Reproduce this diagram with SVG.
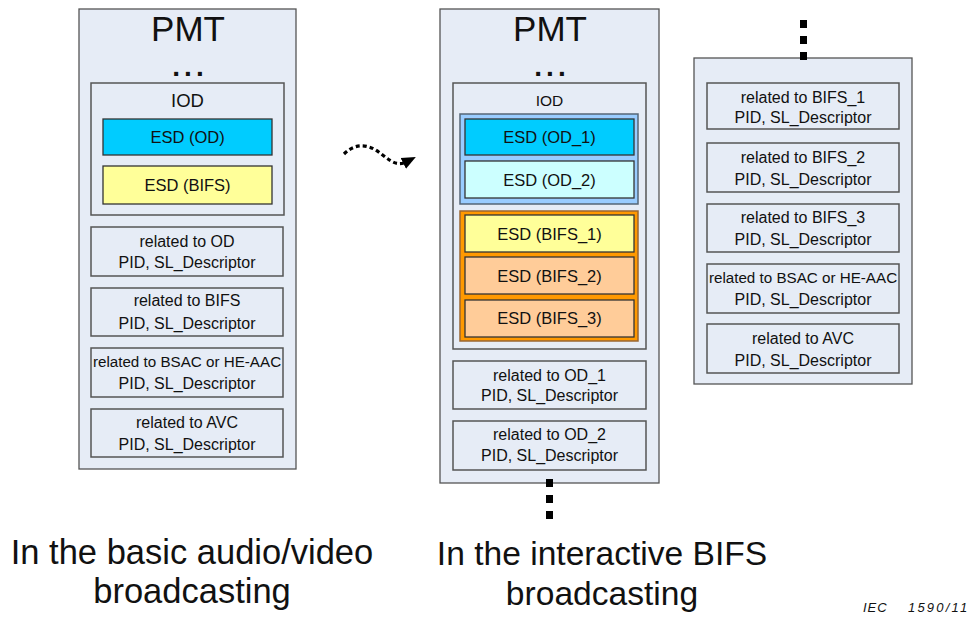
<svg xmlns="http://www.w3.org/2000/svg" width="974" height="619" viewBox="0 0 974 619">
<defs>
<style>
text{font-family:"Liberation Sans",Arial,sans-serif;fill:#111;text-anchor:middle}
.pmt{fill:#E6ECF6;stroke:#555;stroke-width:1.3}
.box{fill:#E6ECF6;stroke:#555;stroke-width:1.5}
.esd{stroke:#333;stroke-width:1.3}
.t16{font-size:16px}
.e16{font-size:16.5px}
.big{font-size:35px}
.ell{font-size:28px;font-weight:bold;letter-spacing:4px}
.dots{stroke:#000;stroke-width:7;stroke-dasharray:8 8;fill:none}
</style>
<marker id="ah" markerWidth="14" markerHeight="14" refX="3" refY="6" orient="auto" markerUnits="userSpaceOnUse" viewBox="0 0 14 12">
<path d="M0,0 L14,6 L0,12 Z" fill="#000"/>
</marker>
</defs>

<g id="pmt-basic">
<rect class="pmt" x="79" y="9" width="217" height="460"/>
<text class="big" x="188" y="41">PMT</text>
<text class="ell" x="190" y="76">...</text>
</g>
<g id="iod-basic">
<rect class="box" x="91" y="83" width="193" height="132"/>
<text x="187.5" y="107" style="font-size:18.5px">IOD</text>
</g>
<g id="esd-od">
<rect class="esd" x="103" y="119" width="169" height="36" fill="#00CCFF"/>
<text class="e16" x="187.5" y="143">ESD (OD)</text>
</g>
<g id="esd-bifs">
<rect class="esd" x="103" y="166" width="169" height="38" fill="#FFFF99"/>
<text class="e16" x="187.5" y="191">ESD (BIFS)</text>
</g>
<g id="rel-od">
<rect class="box" x="91" y="227" width="192" height="49"/>
<text class="t16" x="187" y="247">related to OD</text>
<text class="t16" x="187" y="268">PID, SL_Descriptor</text>
</g>
<g id="rel-bifs">
<rect class="box" x="91" y="288" width="192" height="48"/>
<text class="t16" x="187" y="306">related to BIFS</text>
<text class="t16" x="187" y="329">PID, SL_Descriptor</text>
</g>
<g id="rel-bsac">
<rect class="box" x="91" y="348" width="192" height="49"/>
<text x="187" y="367" style="font-size:15.2px">related to BSAC or HE-AAC</text>
<text class="t16" x="187" y="389">PID, SL_Descriptor</text>
</g>
<g id="rel-avc">
<rect class="box" x="91" y="409" width="192" height="48"/>
<text class="t16" x="187" y="428">related to AVC</text>
<text class="t16" x="187" y="450">PID, SL_Descriptor</text>
</g>

<g id="pmt-interactive">
<rect class="pmt" x="440" y="9" width="219" height="474"/>
<text class="big" x="550" y="41">PMT</text>
<text class="ell" x="552" y="76">...</text>
</g>
<g id="iod-interactive">
<rect class="box" x="453" y="83" width="193" height="266"/>
<text x="549.5" y="106" style="font-size:15.5px">IOD</text>
</g>
<g id="od-group">
<rect x="460" y="114" width="178" height="90" fill="#99CCFF" stroke="#556677" stroke-width="1.5"/>
</g>
<g id="esd-od1">
<rect class="esd" x="465" y="119" width="169" height="36" fill="#00CCFF"/>
<text class="e16" x="549.5" y="143">ESD (OD_1)</text>
</g>
<g id="esd-od2">
<rect class="esd" x="465" y="161" width="169" height="37" fill="#CCFFFF"/>
<text class="e16" x="549.5" y="186">ESD (OD_2)</text>
</g>
<g id="bifs-group">
<rect x="460" y="211" width="178" height="130" fill="#FF9900" stroke="#996633" stroke-width="1.5"/>
</g>
<g id="esd-bifs1">
<rect class="esd" x="465" y="215" width="169" height="37" fill="#FFFF99"/>
<text class="e16" x="549.5" y="240">ESD (BIFS_1)</text>
</g>
<g id="esd-bifs2">
<rect class="esd" x="465" y="257" width="169" height="37" fill="#FFCC99"/>
<text class="e16" x="549.5" y="282">ESD (BIFS_2)</text>
</g>
<g id="esd-bifs3">
<rect class="esd" x="465" y="300" width="169" height="37" fill="#FFCC99"/>
<text class="e16" x="549.5" y="324">ESD (BIFS_3)</text>
</g>
<g id="rel-od1">
<rect class="box" x="453" y="361" width="193" height="48"/>
<text class="t16" x="549.5" y="381">related to OD_1</text>
<text class="t16" x="549.5" y="401">PID, SL_Descriptor</text>
</g>
<g id="rel-od2">
<rect class="box" x="453" y="421" width="193" height="49"/>
<text class="t16" x="549.5" y="440">related to OD_2</text>
<text class="t16" x="549.5" y="461">PID, SL_Descriptor</text>
</g>

<g id="pmt-continued">
<rect class="pmt" x="694" y="58" width="218" height="326"/>
</g>
<g id="rel-bifs1">
<rect class="box" x="707" y="83" width="192" height="46"/>
<text class="t16" x="803" y="103">related to BIFS_1</text>
<text class="t16" x="803" y="123">PID, SL_Descriptor</text>
</g>
<g id="rel-bifs2">
<rect class="box" x="707" y="143" width="192" height="49"/>
<text class="t16" x="803" y="163">related to BIFS_2</text>
<text class="t16" x="803" y="185">PID, SL_Descriptor</text>
</g>
<g id="rel-bifs3">
<rect class="box" x="707" y="204" width="192" height="48"/>
<text class="t16" x="803" y="223">related to BIFS_3</text>
<text class="t16" x="803" y="245">PID, SL_Descriptor</text>
</g>
<g id="rel-bsac2">
<rect class="box" x="707" y="264" width="192" height="49"/>
<text x="803" y="283" style="font-size:15.2px">related to BSAC or HE-AAC</text>
<text class="t16" x="803" y="305">PID, SL_Descriptor</text>
</g>
<g id="rel-avc2">
<rect class="box" x="707" y="324" width="192" height="49"/>
<text class="t16" x="803" y="344">related to AVC</text>
<text class="t16" x="803" y="366">PID, SL_Descriptor</text>
</g>

<g id="connectors">
<path class="dots" d="M549.5,479 V520"/>
<path class="dots" d="M803.5,20 V62"/>
<path d="M344,154 C352,146 362,143 374,149 C386,156 394,168 406,162" fill="none" stroke="#000" stroke-width="3.2" stroke-dasharray="4 3" marker-end="url(#ah)"/>
</g>

<g id="captions">
<text x="192" y="564" style="font-size:34.5px">In the basic audio/video</text>
<text x="192" y="603" style="font-size:34.5px">broadcasting</text>
<text x="602" y="565" style="font-size:33.6px">In the interactive BIFS</text>
<text x="602" y="605" style="font-size:33.6px">broadcasting</text>
<text x="863" y="612" style="font-size:13px;font-style:italic;text-anchor:start;letter-spacing:1px">IEC<tspan x="908" style="letter-spacing:2.2px">1590/11</tspan></text>
</g>
</svg>
